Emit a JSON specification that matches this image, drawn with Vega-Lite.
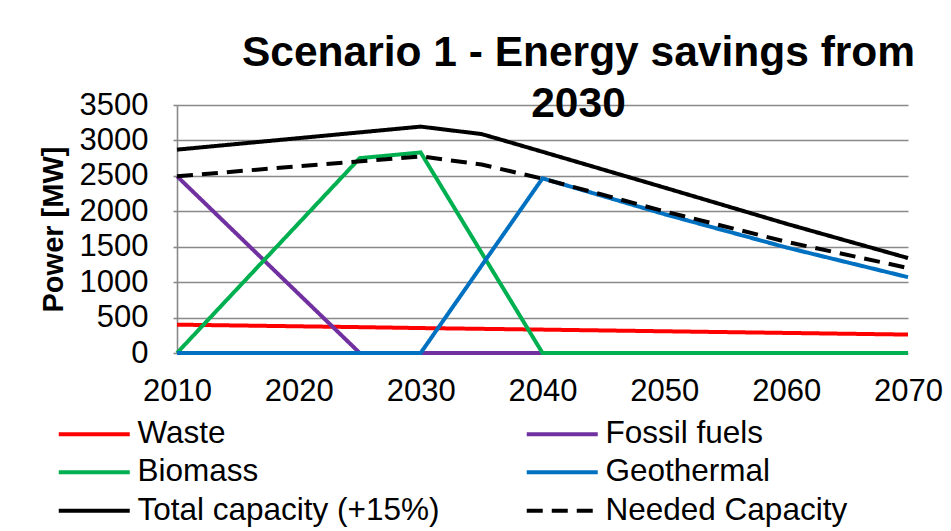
{
  "$schema": "https://vega.github.io/schema/vega-lite/v6.json",
  "autosize": {"type": "none"},
  "width": 731,
  "height": 248,
  "padding": {"left": 177, "top": 105, "right": 43, "bottom": 178},
  "background": "white",
  "config": {
    "view": {"stroke": null},
    "font": "Liberation Sans"
  },
  "title": {
    "text": ["Scenario 1 - Energy savings from", "2030"],
    "font": "Liberation Sans",
    "fontSize": 42.5,
    "fontWeight": "bold",
    "color": "black",
    "anchor": "middle",
    "frame": "group",
    "dx": 36,
    "offset": -70,
    "baseline": "alphabetic",
    "lineHeight": 51
  },
  "data": {
    "values": [
      {"series": "Waste", "year": 2010, "mw": 400},
      {"series": "Waste", "year": 2025, "mw": 365},
      {"series": "Waste", "year": 2030, "mw": 352},
      {"series": "Waste", "year": 2040, "mw": 330},
      {"series": "Waste", "year": 2070, "mw": 260},
      {"series": "Fossil fuels", "year": 2010, "mw": 2495},
      {"series": "Fossil fuels", "year": 2025, "mw": 0},
      {"series": "Fossil fuels", "year": 2030, "mw": 0},
      {"series": "Fossil fuels", "year": 2040, "mw": 0},
      {"series": "Fossil fuels", "year": 2070, "mw": 0},
      {"series": "Biomass", "year": 2010, "mw": 0},
      {"series": "Biomass", "year": 2025, "mw": 2750},
      {"series": "Biomass", "year": 2030, "mw": 2830},
      {"series": "Biomass", "year": 2040, "mw": 0},
      {"series": "Biomass", "year": 2050, "mw": 0},
      {"series": "Biomass", "year": 2060, "mw": 0},
      {"series": "Biomass", "year": 2070, "mw": 0},
      {"series": "Geothermal", "year": 2010, "mw": 0},
      {"series": "Geothermal", "year": 2025, "mw": 0},
      {"series": "Geothermal", "year": 2030, "mw": 0},
      {"series": "Geothermal", "year": 2040, "mw": 2465},
      {"series": "Geothermal", "year": 2050, "mw": 1960},
      {"series": "Geothermal", "year": 2060, "mw": 1490},
      {"series": "Geothermal", "year": 2070, "mw": 1070},
      {"series": "Total capacity (+15%)", "year": 2010, "mw": 2870},
      {"series": "Total capacity (+15%)", "year": 2030, "mw": 3195},
      {"series": "Total capacity (+15%)", "year": 2035, "mw": 3090},
      {"series": "Total capacity (+15%)", "year": 2040, "mw": 2840},
      {"series": "Total capacity (+15%)", "year": 2050, "mw": 2335},
      {"series": "Total capacity (+15%)", "year": 2060, "mw": 1825},
      {"series": "Total capacity (+15%)", "year": 2070, "mw": 1340},
      {"series": "Needed Capacity", "year": 2010, "mw": 2495},
      {"series": "Needed Capacity", "year": 2030, "mw": 2775},
      {"series": "Needed Capacity", "year": 2035, "mw": 2660},
      {"series": "Needed Capacity", "year": 2040, "mw": 2460},
      {"series": "Needed Capacity", "year": 2050, "mw": 2000},
      {"series": "Needed Capacity", "year": 2060, "mw": 1570},
      {"series": "Needed Capacity", "year": 2070, "mw": 1200}
    ]
  },
  "mark": {"type": "line", "strokeWidth": 4, "strokeCap": "butt", "strokeJoin": "miter", "clip": false},
  "encoding": {
    "x": {
      "field": "year", "type": "quantitative",
      "scale": {"domain": [2010, 2070], "nice": false, "zero": false},
      "axis": {
        "title": null,
        "values": [2010, 2020, 2030, 2040, 2050, 2060, 2070],
        "format": "d",
        "grid": false,
        "domain": false,
        "ticks": false,
        "labelFont": "Liberation Sans",
        "labelFontSize": 31,
        "labelColor": "black",
        "labelPadding": 23,
        "labelFlush": false,
        "labelOverlap": false
      }
    },
    "y": {
      "field": "mw", "type": "quantitative",
      "scale": {"domain": [0, 3500], "nice": false},
      "axis": {
        "title": "Power [MW]",
        "titleFont": "Liberation Sans",
        "titleFontSize": 29,
        "titleFontWeight": "bold",
        "titleColor": "black",
        "titleAngle": -90,
        "titleAlign": "center",
        "titleBaseline": "alphabetic",
        "titleX": -115,
        "titleY": 124,
        "values": [0, 500, 1000, 1500, 2000, 2500, 3000, 3500],
        "format": "d",
        "grid": true,
        "gridColor": "#898989",
        "gridWidth": 1.6,
        "domain": true,
        "domainColor": "#898989",
        "domainWidth": 1.6,
        "ticks": true,
        "tickColor": "#898989",
        "tickSize": 4,
        "tickWidth": 1.6,
        "labelFont": "Liberation Sans",
        "labelFontSize": 31,
        "labelColor": "black",
        "labelPadding": 25,
        "labelFlush": false,
        "labelOverlap": false
      }
    },
    "color": {
      "field": "series", "type": "nominal",
      "scale": {
        "domain": ["Waste", "Fossil fuels", "Biomass", "Geothermal", "Total capacity (+15%)", "Needed Capacity"],
        "range": ["#FF0000", "#7030A0", "#00B050", "#0070C0", "#000000", "#000000"]
      },
      "sort": null,
      "legend": {
        "title": null,
        "orient": "none",
        "legendX": -124,
        "legendY": 313,
        "direction": "horizontal",
        "columns": 2,
        "columnPadding": 78,
        "rowPadding": 5.5,
        "symbolType": "M-1,0H6.1",
        "symbolSize": 400,
        "symbolStrokeWidth": 4,
        "symbolFillColor": "transparent",
        "labelFont": "Liberation Sans",
        "labelFontSize": 31.5,
        "labelColor": "black",
        "labelOffset": 53,
        "labelLimit": 500
      }
    },
    "strokeDash": {
      "field": "series", "type": "nominal",
      "scale": {
        "domain": ["Waste", "Fossil fuels", "Biomass", "Geothermal", "Total capacity (+15%)", "Needed Capacity"],
        "range": [[1, 0], [1, 0], [1, 0], [1, 0], [1, 0], [16, 9]]
      },
      "sort": null,
      "legend": {
        "title": null,
        "orient": "none",
        "legendX": -124,
        "legendY": 313,
        "direction": "horizontal",
        "columns": 2,
        "columnPadding": 78,
        "rowPadding": 5.5,
        "symbolType": "M-1,0H6.1",
        "symbolSize": 400,
        "symbolStrokeWidth": 4,
        "symbolFillColor": "transparent",
        "labelFont": "Liberation Sans",
        "labelFontSize": 31.5,
        "labelColor": "black",
        "labelOffset": 53,
        "labelLimit": 500
      }
    }
  }
}
